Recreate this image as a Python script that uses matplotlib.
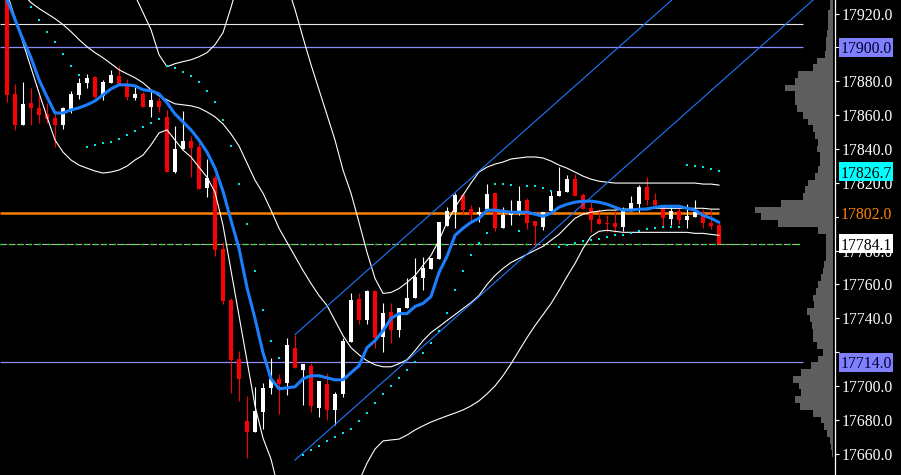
import matplotlib
matplotlib.use('Agg')
import matplotlib.pyplot as plt
import matplotlib.transforms as mtransforms
from matplotlib.patches import Rectangle
import numpy as np

nan = float('nan')

opens = [17935.4, 17872.6, 17854.2, 17867.3, 17864.3, 17860.7, 17858.4, 17854.2, 17863.1, 17872.0,
 17879.1, 17882.7, 17871.4, 17879.1, 17883.3, 17878.5, 17870.2, 17872.6, 17864.9, 17868.4,
 17859.0, 17826.4, 17840.0, 17844.7, 17841.2, 17816.9, 17822.8, 17780.7, 17751.1, 17716.2,
 17679.4, 17672.9, 17684.7, 17699.0, 17704.3, 17701.9, 17722.7, 17709.6, 17712.0, 17687.1,
 17701.3, 17685.9, 17695.4, 17726.2, 17751.7, 17739.3, 17755.9, 17729.2, 17744.0, 17733.3,
 17746.4, 17752.3, 17764.1, 17768.9, 17774.8, 17794.4, 17802.7, 17812.7, 17804.5, 17801.5,
 17804.5, 17813.9, 17793.2, 17800.9, 17802.1, 17809.8, 17797.3, 17793.8, 17803.3, 17812.1,
 17814.5, 17822.2, 17812.7, 17805.0, 17798.5, 17796.1, 17796.1, 17793.8, 17803.3, 17807.4,
 17817.5, 17809.8, 17806.8, 17798.5, 17803.3, 17797.9, 17799.7, 17802.1, 17796.1, 17795.0]
highs = [17937.0, 17878.5, 17879.7, 17876.2, 17871.4, 17867.3, 17861.9, 17864.9, 17874.4, 17882.1,
 17884.4, 17883.3, 17880.9, 17886.8, 17889.2, 17881.5, 17876.7, 17873.8, 17874.4, 17870.8,
 17863.1, 17853.6, 17862.5, 17847.7, 17843.6, 17834.1, 17824.6, 17784.9, 17752.3, 17720.9,
 17694.2, 17699.6, 17701.6, 17716.7, 17707.3, 17728.6, 17730.4, 17713.2, 17713.8, 17703.1,
 17707.9, 17696.6, 17728.6, 17754.7, 17754.7, 17757.0, 17757.0, 17749.3, 17749.3, 17746.4,
 17763.6, 17775.4, 17776.0, 17775.4, 17796.7, 17805.6, 17813.9, 17813.9, 17806.8, 17805.6,
 17819.3, 17813.9, 17805.6, 17809.8, 17818.1, 17811.0, 17797.3, 17802.7, 17815.7, 17829.3,
 17824.6, 17825.2, 17813.9, 17808.6, 17804.5, 17800.9, 17803.9, 17805.6, 17812.1, 17818.7,
 17823.4, 17813.9, 17806.8, 17805.6, 17805.0, 17807.4, 17809.8, 17804.5, 17804.5, 17796.1]
lows = [17867.9, 17851.3, 17854.2, 17854.2, 17855.4, 17855.4, 17841.2, 17851.9, 17861.3, 17869.6,
 17876.2, 17870.2, 17869.0, 17879.1, 17878.5, 17869.0, 17869.0, 17864.9, 17859.0, 17861.9,
 17826.4, 17825.8, 17840.0, 17823.4, 17816.3, 17811.6, 17776.6, 17748.2, 17696.0, 17691.3,
 17657.5, 17672.9, 17674.6, 17695.4, 17683.6, 17694.8, 17710.8, 17688.9, 17684.7, 17681.8,
 17680.0, 17677.0, 17693.6, 17726.2, 17736.9, 17736.9, 17722.7, 17720.3, 17725.6, 17729.2,
 17746.4, 17752.3, 17756.5, 17768.9, 17774.8, 17794.4, 17793.2, 17800.9, 17796.1, 17796.7,
 17804.5, 17791.4, 17793.2, 17795.0, 17800.9, 17792.6, 17782.0, 17792.0, 17803.3, 17812.1,
 17814.5, 17812.1, 17804.5, 17790.8, 17795.6, 17790.8, 17790.8, 17791.4, 17803.3, 17802.7,
 17806.8, 17806.8, 17793.8, 17795.0, 17795.6, 17793.2, 17799.7, 17793.2, 17792.6, 17784.1]
closes = [17872.0, 17854.2, 17866.7, 17864.3, 17860.2, 17857.8, 17854.2, 17864.3, 17872.6, 17879.1,
 17882.1, 17870.8, 17879.7, 17883.9, 17878.5, 17870.8, 17872.6, 17864.9, 17869.0, 17864.9,
 17826.4, 17840.0, 17844.7, 17840.6, 17816.3, 17822.8, 17780.2, 17750.5, 17715.6, 17704.3,
 17672.9, 17685.3, 17699.0, 17704.3, 17701.3, 17724.4, 17710.8, 17713.2, 17688.3, 17703.1,
 17685.9, 17695.4, 17726.8, 17751.1, 17739.3, 17755.9, 17728.6, 17743.4, 17733.3, 17746.4,
 17752.3, 17764.7, 17769.5, 17775.4, 17796.7, 17803.3, 17812.7, 17803.9, 17800.9, 17802.7,
 17813.3, 17793.2, 17800.9, 17802.7, 17809.2, 17796.1, 17794.4, 17802.7, 17812.1, 17815.1,
 17822.2, 17812.1, 17804.5, 17797.9, 17795.6, 17795.8, 17793.8, 17804.5, 17808.0, 17817.5,
 17809.8, 17806.8, 17799.1, 17803.3, 17797.9, 17800.3, 17802.7, 17796.1, 17794.4, 17784.1]

ma_fast = [17928.3, 17916.5, 17904.6, 17893.9, 17880.9, 17870.8, 17861.3, 17861.3, 17863.1, 17864.3,
 17866.1, 17868.4, 17872.0, 17875.5, 17877.9, 17877.9, 17877.3, 17875.0, 17874.4, 17872.6,
 17867.3, 17860.7, 17856.0, 17851.3, 17845.3, 17838.2, 17828.7, 17815.1, 17797.9, 17781.3,
 17758.2, 17739.9, 17719.7, 17704.3, 17698.4, 17699.0, 17699.6, 17704.3, 17706.1, 17706.1,
 17704.9, 17703.7, 17703.7, 17707.9, 17712.0, 17722.7, 17726.8, 17732.7, 17739.9, 17742.8,
 17742.8, 17747.0, 17748.8, 17752.9, 17767.1, 17776.6, 17789.0, 17793.2, 17796.7, 17799.1,
 17803.9, 17803.9, 17803.3, 17802.7, 17802.7, 17802.7, 17801.5, 17800.3, 17802.1, 17805.6,
 17807.4, 17808.6, 17809.2, 17809.2, 17808.6, 17807.4, 17805.6, 17803.9, 17803.9, 17804.5,
 17804.5, 17805.6, 17806.2, 17806.2, 17806.2, 17805.0, 17803.9, 17800.9, 17799.1, 17796.7]

bb_upper = [nan] * 14 + [17955.0, 17943.1, 17930.7, 17920.6, 17910.5, 17895.7, 17888.6, 17890.4, 17891.6, 17892.7,
 17894.5, 17896.9, 17901.6, 17908.7, 17923.6, 17940.2, 17958.0, 17963.9, 17963.9, 17960.9,
 17952.0, 17937.2, 17922.4, 17905.8, 17889.8, 17875.0, 17860.2, 17845.3, 17827.6, 17813.9,
 17796.7, 17779.0, 17763.6, 17754.7, 17755.3, 17757.6, 17761.2, 17765.3, 17771.3, 17777.2,
 17786.1, 17796.7, 17805.6, 17812.7, 17819.9, 17826.4, 17829.3, 17831.1, 17832.3, 17834.1,
 17834.7, 17835.3, 17835.3, 17834.7, 17832.9, 17830.5, 17828.7, 17826.4, 17824.0, 17822.2,
 17821.0, 17820.4, 17819.9, 17819.9, 17819.9, 17819.9, 17819.9, 17819.9, 17819.9, 17819.9,
 17819.9, 17819.9, 17819.9, 17819.3, 17819.3, 17818.7]
bb_middle = [17940.2, 17935.4, 17931.3, 17926.5, 17923.0, 17920.0, 17917.0, 17913.5, 17909.3, 17904.6,
 17900.4, 17896.9, 17893.9, 17890.4, 17886.8, 17884.4, 17882.1, 17879.1, 17875.0, 17871.4,
 17869.0, 17866.7, 17866.1, 17865.5, 17864.3, 17861.9, 17859.0, 17854.8, 17848.9, 17841.8,
 17831.7, 17821.6, 17813.9, 17803.9, 17793.2, 17784.9, 17776.6, 17768.3, 17760.6, 17753.5,
 17747.6, 17738.7, 17729.8, 17722.7, 17718.5, 17715.0, 17712.6, 17711.4, 17711.4, 17713.2,
 17715.6, 17720.9, 17726.8, 17731.6, 17735.1, 17738.7, 17742.2, 17745.8, 17749.3, 17753.5,
 17760.0, 17765.3, 17769.5, 17773.0, 17775.4, 17777.8, 17780.2, 17782.5, 17786.1, 17789.6,
 17794.4, 17799.1, 17801.5, 17802.7, 17803.3, 17803.9, 17803.9, 17804.5, 17804.5, 17804.5,
 17805.0, 17805.0, 17805.0, 17805.0, 17805.0, 17805.0, 17805.0, 17805.0, 17804.5, 17804.5]
bb_lower = [17931.9, 17917.6, 17902.8, 17888.0, 17873.2, 17859.0, 17845.3, 17838.2, 17833.5, 17830.5,
 17828.7, 17827.0, 17825.8, 17826.4, 17827.6, 17829.9, 17833.5, 17836.4, 17842.4, 17849.5,
 17851.3, 17845.3, 17839.4, 17835.3, 17829.3, 17823.4, 17814.5, 17795.0, 17768.3, 17741.6,
 17715.0, 17688.3, 17669.3, 17656.9, 17637.9, 17623.1, 17614.2, 17608.3, 17605.3, 17605.3,
 17608.3, 17614.2, 17623.1, 17632.0, 17643.9, 17654.5, 17662.8, 17667.6, 17668.2, 17668.7,
 17671.1, 17674.1, 17676.5, 17678.8, 17680.6, 17682.4, 17684.1, 17685.9, 17688.3, 17691.3,
 17695.4, 17700.1, 17706.1, 17713.2, 17720.9, 17728.6, 17735.7, 17742.2, 17748.7, 17756.4,
 17764.7, 17772.4, 17781.3, 17788.4, 17791.4, 17792.0, 17791.4, 17790.8, 17790.8, 17790.8,
 17790.8, 17790.8, 17790.8, 17790.8, 17790.8, 17790.8, 17790.2, 17790.2, 17789.6, 17789.0]

sar = [nan, nan, nan, 17923.6, 17915.9, 17909.3, 17903.4, 17896.3, 17889.2, 17883.9,
 17841.2, 17842.4, 17843.6, 17844.2, 17845.9, 17848.3, 17850.7, 17853.0, 17855.4, 17857.8,
 17889.2, 17888.0, 17885.6, 17883.3, 17879.7, 17874.4, 17867.9, 17857.2, 17841.8, 17819.3,
 17795.6, 17767.7, 17745.2, 17726.8, 17716.7, nan, nan, 17659.3, 17662.2, 17664.6,
 17667.6, 17669.9, 17672.3, 17674.7, 17679.4, 17684.1, 17690.1, 17695.4, 17700.1, 17704.9,
 17709.6, 17714.4, 17719.7, 17725.6, 17732.7, 17743.4, 17757.0, 17767.7, 17777.2, 17784.3,
 17790.2, 17819.3, 17819.3, 17818.7, 17791.4, 17818.1, 17818.1, 17816.9, 17815.1, 17781.9,
 17783.1, 17784.3, 17785.5, 17786.1, 17786.7, 17787.9, 17789.0, 17789.0, 17790.2, 17791.4,
 17792.6, 17793.2, 17793.8, 17793.8, 17793.8, 17830.5, 17829.9, 17829.3, 17828.2, 17827.0]

# trend channel anchors: (bar index, price)
channel_upper = [(36, 17730.4), (80, 17915.0)]
channel_lower = [(36, 17656.3), (80, 17840.9)]

level_white = 17913.8
level_blue = [17900.0, 17714.0]
level_orange = 17802.0
level_bid = 17784.1
label_sar = 17826.7

profile_prices = [17928, 17924, 17920, 17916, 17912, 17908, 17904, 17900, 17896, 17892,
 17888, 17884, 17880, 17876, 17872, 17868, 17864, 17860, 17856, 17852,
 17848, 17844, 17840, 17836, 17832, 17828, 17824, 17820, 17816, 17812,
 17808, 17804, 17800, 17796, 17792, 17788, 17784, 17780, 17776, 17772,
 17768, 17764, 17760, 17756, 17752, 17748, 17744, 17740, 17736, 17732,
 17728, 17724, 17720, 17716, 17712, 17708, 17704, 17700, 17696, 17692,
 17688, 17684, 17680, 17676, 17672, 17668, 17664, 17660, 17656]
profile_volume = [3, 3, 5, 5, 5, 6, 7, 7, 8, 16,
 20, 35, 38, 48, 38, 38, 36, 30, 25, 20,
 18, 15, 16, 13, 13, 15, 18, 25, 28, 30,
 52, 78, 72, 55, 15, 7, 7, 7, 7, 9,
 10, 12, 15, 17, 20, 19, 26, 23, 21, 20,
 20, 16, 10, 15, 22, 32, 40, 34, 32, 38,
 33, 20, 12, 9, 6, 3, 2, 1, 0]

price_ticks = [17660, 17680, 17700, 17720, 17740, 17760, 17780, 17800,
               17820, 17840, 17860, 17880, 17900, 17920]
# tick labels fully covered by the price-label boxes in the reference
hidden_tick_labels = [17720, 17800, 17900]

# ---------------------------------------------------------------
W, H = 901, 475
fig = plt.figure(figsize=(W / 100, H / 100), dpi=100, facecolor='black')
AX_W = 835
ax = fig.add_axes([0, 0, AX_W / W, 1])
ax.set_facecolor('black')
XMIN, XMAX = -0.875, 103.5
ax.set_xlim(XMIN, XMAX)
ax.set_ylim(17647.5, 17928.0)
PX = (XMAX - XMIN) / AX_W          # data units per horizontal pixel
PY = (17928.0 - 17647.5) / H        # data units per vertical pixel

n = len(opens)
x = np.arange(n)

# horizontal objects
ax.hlines(level_white, XMIN, 99.5, color='#e6e6e6', lw=0.8, zorder=1)
for lv in level_blue:
    ax.hlines(lv, XMIN, 99.5, color='#8c8cff', lw=0.9, zorder=1)
ax.hlines(level_orange, XMIN, n - 1, color='#ff8000', lw=1.8, zorder=1)
ax.plot([XMIN, 99.1], [level_bid, level_bid], color='#b4b4b4', lw=0.8,
        dashes=(6, 1.5), zorder=1)
ax.plot([XMIN, 99.1], [level_bid, level_bid], color='#00ff00', lw=0.9,
        dashes=(2.2, 5.3), dash_capstyle='butt', zorder=1.1)

# volume profile
right_edge = XMIN + 833 * PX
ax.barh(profile_prices, [-v * PX for v in profile_volume], left=right_edge,
        height=4, color='#5e5e5e', lw=0, zorder=0.5)

# candles
for i in range(n):
    o, h, l, c = opens[i], highs[i], lows[i], closes[i]
    col = '#ffffff' if c > o else '#ff0000'
    ax.vlines(i, l, h, color=col, lw=0.8, zorder=2)
    bot = min(o, c)
    ht = max(abs(c - o), 0.7)
    ax.bar(i, ht, bottom=bot, width=0.62, color=col, lw=0, zorder=2.1)

# bollinger bands
for band in (bb_upper, bb_middle, bb_lower):
    ax.plot(x, band, color='white', lw=0.8, zorder=3)

# trend channel (rays to the right)
for (b1, p1), (b2, p2) in (channel_upper, channel_lower):
    slope = (p2 - p1) / (b2 - b1)
    bend = 110
    ax.plot([b1, bend], [p1, p1 + slope * (bend - b1)], color='#1e78ff', lw=0.8, zorder=3)

# parabolic SAR
ax.plot(x, sar, 's', ms=1.7, mew=0, color='#00e8e8', zorder=4)

# moving average
ax.plot(x, ma_fast, color='#1a7fff', lw=2.2, zorder=5, solid_capstyle='round')

# axis styling
for s in ('left', 'top', 'bottom'):
    ax.spines[s].set_visible(False)
ax.spines['right'].set_color('white')
ax.spines['right'].set_linewidth(0.9)
ax.set_xticks([])
ax.yaxis.tick_right()
ax.set_yticks(price_ticks)
ax.set_yticklabels(['' if t in hidden_tick_labels else f'{t:.1f}' for t in price_ticks])
ax.tick_params(axis='y', colors='white', length=3, width=0.8, pad=2,
               labelsize=11.3, labelcolor='white')
for lab in ax.get_yticklabels():
    lab.set_fontfamily('Liberation Serif')

# price labels on the scale
trans = mtransforms.blended_transform_factory(ax.transAxes, ax.transData)

def price_label(price, face, tcolor, box_h_px=19):
    h = box_h_px * PY
    rect = Rectangle((839 / AX_W, price - h / 2), 54 / AX_W, h, transform=trans,
                     facecolor=face, edgecolor='none', clip_on=False, zorder=10)
    ax.add_patch(rect)
    ax.text(841 / AX_W, price, f'{price:.1f}', transform=trans, ha='left',
            va='center_baseline', fontsize=11.3, family='Liberation Serif',
            color=tcolor, clip_on=False, zorder=11)

price_label(level_blue[0], '#8080ff', '#000030')
price_label(label_sar, '#00ffff', '#000000')
price_label(level_bid, '#ffffff', '#000000')
price_label(level_blue[1], '#8080ff', '#000030')
price_label(level_orange, '#000000', '#ff8000', box_h_px=14)

fig.savefig('out.png', dpi=100, facecolor='black')
